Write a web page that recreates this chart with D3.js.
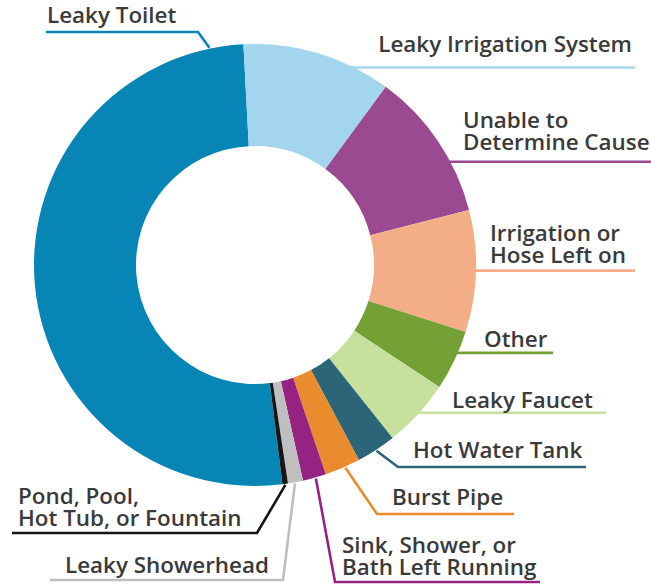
<!DOCTYPE html>
<html><head><meta charset="utf-8">
<script src="https://cdn.jsdelivr.net/npm/d3@7"></script>
<style>html,body{margin:0;padding:0;background:#fff;}svg{display:block;}</style>
</head><body>
<svg id="chart" width="651" height="584"></svg>
<script>
// ---- data ----
const categories = ["Leaky Toilet","Leaky Irrigation System","Unable to Determine Cause","Irrigation or Hose Left on","Other","Leaky Faucet","Hot Water Tank","Burst Pipe","Sink, Shower, or Bath Left Running","Leaky Showerhead","Pond, Pool, Hot Tub, or Fountain"];
const values = [51.1, 10.9, 10.9, 8.9, 4.4, 5.0, 2.9, 2.6, 1.7, 1.1, 0.4];
const labelLines = [["Leaky Toilet"],["Leaky Irrigation System"],["Unable to","Determine Cause"],["Irrigation or","Hose Left on"],["Other"],["Leaky Faucet"],["Hot Water Tank"],["Burst Pipe"],["Sink, Shower, or","Bath Left Running"],["Leaky Showerhead"],["Pond, Pool,","Hot Tub, or Fountain"]];
const colors = ["#0786b5","#a3d5ee","#9b4a91","#f3ad87","#75a035","#c8e09e","#2c6577","#ea8b2d","#962381","#bfbfbf","#151515"];

// ---- layout ----
const cx = 255, cy = 265, R = 221, r = 119;
const topGapDeg = -3;
// t: fraction along slice where leader attaches; tx: text x; anchor; by: first baseline; elbow: [x,y] or null; endX
const layout = [
  {t:0.952, tx:47, anchor:"start", by:23, elbow:[198,32], endX:46},
  {t:0.67, tx:632, anchor:"end", by:52, elbow:null, endX:635},
  {t:0.637, tx:463, anchor:"start", by:128, elbow:null, endX:651},
  {t:0.497, tx:490, anchor:"start", by:241, elbow:null, endX:635},
  {t:0.41, tx:484, anchor:"start", by:347, elbow:null, endX:553},
  {t:0.55, tx:452, anchor:"start", by:408, elbow:null, endX:606},
  {t:0.51, tx:413, anchor:"start", by:458, elbow:[398,467], endX:586},
  {t:0.43, tx:392, anchor:"start", by:505, elbow:[377,514], endX:514},
  {t:0.45, tx:342, anchor:"start", by:553, elbow:[335,582], endX:540},
  {t:0.55, tx:65, anchor:"start", by:573, elbow:[283,580], endX:50},
  {t:0.5, tx:18, anchor:"start", by:504, elbow:[257,533], endX:12}
];
const lineGap = 21.5;

const svg = d3.select("#chart");
const total = d3.sum(values);
const gap = topGapDeg*Math.PI/180;
const start = gap - values[0]/total*2*Math.PI;
const pie = d3.pie().sort(null).value(d=>d).startAngle(start).endAngle(start+2*Math.PI);
const arcs = pie(values);
const arc = d3.arc().innerRadius(r).outerRadius(R);

// leader lines (drawn first, under the donut)
const lines = svg.append("g");
arcs.forEach((a,i)=>{
  const L = layout[i];
  const ang = a.startAngle + L.t*(a.endAngle-a.startAngle);
  const rr = L.elbow ? R+1 : R-6;
  const px = cx + rr*Math.sin(ang), py = cy - rr*Math.cos(ang);
  const pts = L.elbow ? [[px,py],L.elbow,[L.endX,L.elbow[1]]] : [[px,py],[L.endX,py]];
  lines.append("path").attr("d",d3.line()(pts)).attr("fill","none")
    .attr("stroke",colors[i]).attr("stroke-width",2.6);
});

const g = svg.append("g").attr("transform",`translate(${cx},${cy})`);
g.selectAll("path").data(arcs).join("path").attr("d",arc).attr("fill",(d,i)=>colors[i]);

// labels
const labels = svg.append("g").attr("font-family","'Open Sans', sans-serif").attr("font-weight",600).attr("fill","#3a3a3a");
labelLines.forEach((ls,i)=>{
  const L = layout[i];
  const t = labels.append("text").attr("x",L.tx).attr("y",L.by).attr("text-anchor",L.anchor);
  ls.forEach((s,j)=>{
    t.append("tspan").attr("x",L.tx).attr("dy", j===0 ? 0 : lineGap).text(s);
  });
});
// fit font size so the reference label width matches
labels.attr("font-size",20);
const ref = labels.selectAll("tspan").filter(function(){return this.textContent==="Leaky Irrigation System";}).node();
const w = ref.getComputedTextLength();
labels.attr("font-size", 20*254/w);
</script>
</body></html>
